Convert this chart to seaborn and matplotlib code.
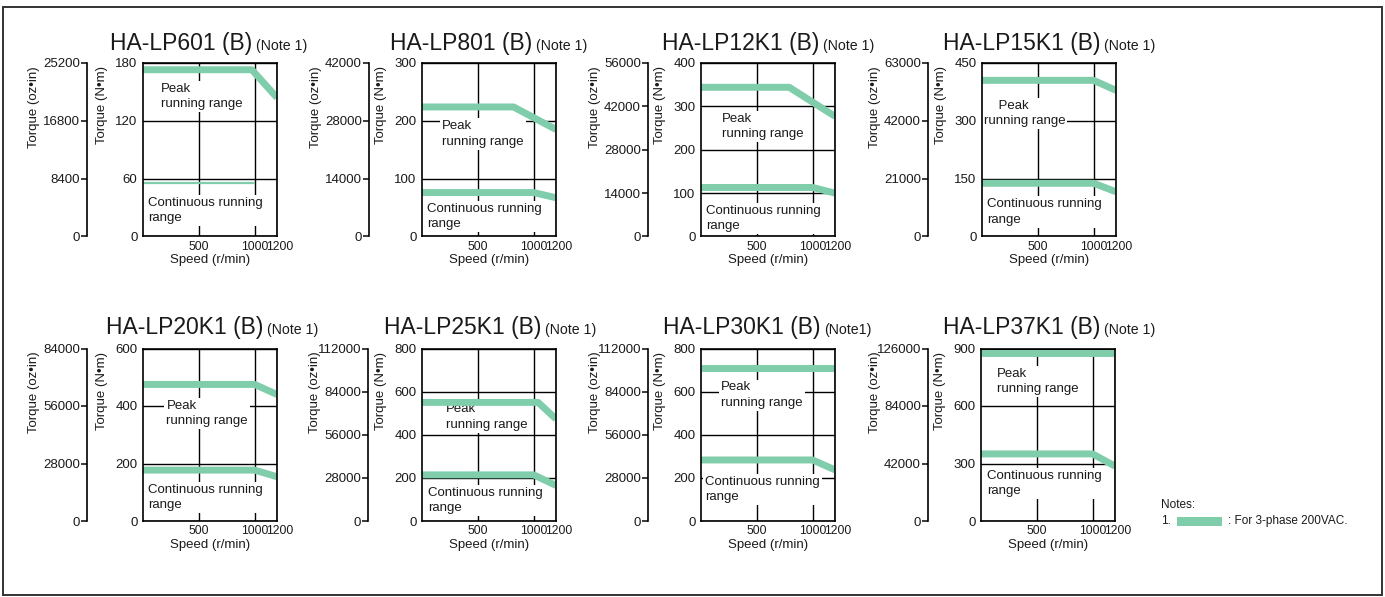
import numpy as np
import pandas as pd
import matplotlib.pyplot as plt
import seaborn as sns
from matplotlib.patches import Rectangle
from matplotlib.transforms import ScaledTranslation

# Motor torque characteristics
models = ["HA-LP601 (B)", "HA-LP801 (B)", "HA-LP12K1 (B)", "HA-LP15K1 (B)",
          "HA-LP20K1 (B)", "HA-LP25K1 (B)", "HA-LP30K1 (B)", "HA-LP37K1 (B)"]
notes = ["(Note 1)", "(Note 1)", "(Note 1)", "(Note 1)",
         "(Note 1)", "(Note 1)", "(Note1)", "(Note 1)"]

nm_max = [180, 300, 400, 450, 600, 800, 800, 900]
nm_ticks = [[0, 60, 120, 180], [0, 100, 200, 300], [0, 100, 200, 300, 400],
            [0, 150, 300, 450], [0, 200, 400, 600], [0, 200, 400, 600, 800],
            [0, 200, 400, 600, 800], [0, 300, 600, 900]]
oz_max = [25200, 42000, 56000, 63000, 84000, 112000, 112000, 126000]
oz_ticks = [[0, 8400, 16800, 25200], [0, 14000, 28000, 42000],
            [0, 14000, 28000, 42000, 56000], [0, 21000, 42000, 63000],
            [0, 28000, 56000, 84000], [0, 28000, 56000, 84000, 112000],
            [0, 28000, 56000, 84000, 112000], [0, 42000, 84000, 126000]]

speed_ticks = [500, 1000, 1200]

peak_speed = [[0, 975, 1200], [0, 820, 1200], [0, 790, 1200], [0, 1000, 1200],
              [0, 1000, 1200], [0, 1040, 1200], [0, 1200], [0, 1200]]
peak_torque = [[173, 173, 144], [224, 224, 185], [344, 344, 277], [405, 405, 379],
               [475, 475, 440], [550, 550, 473], [708, 708], [876, 876]]
cont_speed = [[0, 1000], [0, 1000, 1200], [0, 1000, 1200], [0, 1000, 1200],
              [0, 1000, 1200], [0, 1000, 1200], [0, 1000, 1200], [0, 1000, 1200]]
cont_torque = [[56, 56], [76, 76, 67], [113, 113, 100], [138, 138, 116],
               [177, 177, 154], [214, 214, 165], [283, 283, 237], [350, 350, 286]]

# layout (pixels of the 1385x597 canvas)
W, H = 1385, 597
box_left = [143, 422, 701, 982, 143, 422, 701, 981]
oz_left = [87, 369, 648, 928, 87, 368, 648, 928]
row_top = [63, 63, 63, 63, 348.5, 348.5, 348.5, 348.5]
row_bot = [236.5, 236.5, 236.5, 236.5, 521, 521, 521, 521]
title_x = [110, 390, 662, 943, 106, 384, 663, 943]
title_base = [50, 50, 50, 50, 334, 334, 334, 334]
box_w = 134
peak_pos = [(0.134, 0.808), (0.149, 0.591), (0.157, 0.633), (0.0125, 0.707),
            (0.175, 0.623), (0.18, 0.603), (0.15, 0.73), (0.118, 0.809)]
cont_pos = [(0.037, 0.151), (0.037, 0.113), (0.037, 0.104), (0.0375, 0.141),
            (0.0375, 0.134), (0.045, 0.118), (0.032, 0.185), (0.043, 0.216)]
peak_text = ["Peak\nrunning range"] * 3 + ["    Peak\nrunning range"] + ["Peak\nrunning range"] * 4
cont_lw = [1.6, 5, 5, 5, 5, 5, 5, 5]

GREEN = "#7fcdab"
INK = "#1a1a1a"
FS = 9.5

sns.set_theme(style="white")
plt.rcParams['font.family'] = ['Liberation Sans', 'DejaVu Sans']
plt.rcParams['text.color'] = INK
plt.rcParams['axes.labelcolor'] = INK
plt.rcParams['xtick.color'] = INK
plt.rcParams['ytick.color'] = INK

fig = plt.figure(figsize=(W / 100, H / 100), dpi=100)

def px(x, y):
    return x / W, 1 - y / H

titles = []
for i in range(8):
    top, bot = row_top[i], row_bot[i]
    l, b = px(box_left[i], bot)
    ax = fig.add_axes([l, b, box_w / W, (bot - top) / H])
    ax.set_xlim(0, 1200)
    ax.set_ylim(0, nm_max[i])

    # bands sit above the white text boxes
    sns.lineplot(x=peak_speed[i], y=peak_torque[i], ax=ax, color=GREEN,
                 linewidth=5, estimator=None, solid_capstyle='butt', zorder=3.5)
    sns.lineplot(x=cont_speed[i], y=cont_torque[i], ax=ax, color=GREEN,
                 linewidth=cont_lw[i], estimator=None, solid_capstyle='butt', zorder=3.5)

    ax.set_xticks(speed_ticks)
    ax.set_xticklabels([str(s) for s in speed_ticks])
    ax.set_yticks(nm_ticks[i])
    ax.tick_params(axis='both', length=0, pad=3)
    ax.tick_params(axis='x', labelsize=8.8)
    ax.tick_params(axis='y', labelsize=FS, pad=4)
    lab = ax.get_xticklabels()[-1]
    lab.set_transform(lab.get_transform() + ScaledTranslation(2.5 / 100, 0, fig.dpi_scale_trans))
    ax.set_axisbelow(False)
    ax.grid(True, color='black', linewidth=1.0)
    for sp in ax.spines.values():
        sp.set_visible(True)
        sp.set_color('black')
        sp.set_linewidth(1.2)
        sp.set_zorder(5)
    ax.set_xlabel("Speed (r/min)", fontsize=FS, labelpad=1)
    ax.set_ylabel("")

    ax.text(peak_pos[i][0], peak_pos[i][1], peak_text[i], transform=ax.transAxes,
            ha='left', va='center', fontsize=FS, zorder=3, linespacing=1.35,
            bbox=dict(boxstyle='square,pad=0.15', fc='white', ec='none'))
    ax.text(cont_pos[i][0], cont_pos[i][1], "Continuous running\nrange",
            transform=ax.transAxes, ha='left', va='center', fontsize=FS, zorder=3,
            linespacing=1.35,
            bbox=dict(boxstyle='square,pad=0.15', fc='white', ec='none'))

    # secondary oz-in scale
    l2, _ = px(oz_left[i], bot)
    ax2 = fig.add_axes([l2, b, 0.0005, (bot - top) / H])
    ax2.set_ylim(0, oz_max[i])
    ax2.set_yticks(oz_ticks[i])
    ax2.set_xticks([])
    ax2.patch.set_visible(False)
    for k in ['top', 'right', 'bottom']:
        ax2.spines[k].set_visible(False)
    ax2.spines['left'].set_color('black')
    ax2.spines['left'].set_linewidth(1.2)
    ax2.tick_params(axis='y', direction='out', length=4, width=1.2, labelsize=FS, pad=1, left=True)

    # axis titles
    fx, fy = px(oz_left[i] - 53, top + 3)
    fig.text(fx, fy, "Torque (oz•in)", rotation=90, ha='center', va='top', fontsize=FS)
    fx, fy = px(box_left[i] - 41, top + 3)
    fig.text(fx, fy, "Torque (N•m)", rotation=90, ha='center', va='top', fontsize=FS)

    fx, fy = px(title_x[i], title_base[i])
    titles.append(fig.text(fx, fy, models[i], ha='left', va='baseline', fontsize=16.5))

fig.canvas.draw()
renderer = fig.canvas.get_renderer()
for i, t in enumerate(titles):
    bb = t.get_window_extent(renderer)
    _, fy = px(0, title_base[i])
    fig.text((bb.x1 + 4) / W, fy, notes[i], ha='left', va='baseline', fontsize=10.2)

# notes legend
fx, fy = px(1161, 505)
fig.text(fx, fy, "Notes:", ha='left', va='center', fontsize=8.5)
fx, fy = px(1161, 521)
fig.text(fx, fy, "1.", ha='left', va='center', fontsize=8.5)
rx, ry = px(1177, 526)
fig.patches.append(Rectangle((rx, ry), 45 / W, 9 / H, transform=fig.transFigure,
                             facecolor=GREEN, edgecolor='none'))
fx, fy = px(1228, 521)
fig.text(fx, fy, ": For 3-phase 200VAC.", ha='left', va='center', fontsize=8.5)

# outer frame
fx, fy = px(3, 595)
fig.patches.append(Rectangle((fx, fy), 1379 / W, 588 / H, transform=fig.transFigure,
                             fill=False, edgecolor='#333333', linewidth=1.4))

fig.savefig("out.png", dpi=100)
